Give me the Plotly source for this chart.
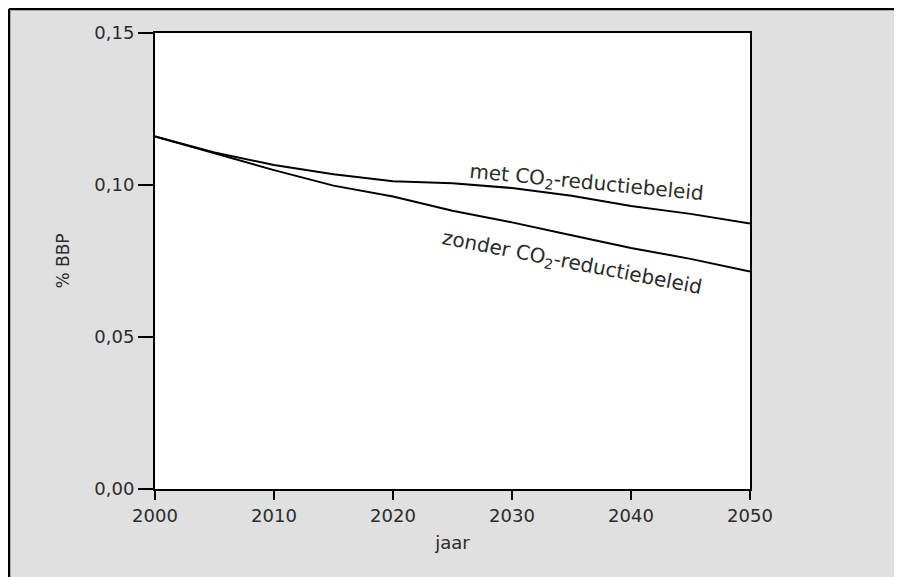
import plotly.graph_objects as go

# jaar en aandeel in % BBP
jaren = [2000, 2005, 2010, 2015, 2020, 2025, 2030, 2035, 2040, 2045, 2050]
met_beleid = [0.116, 0.1107, 0.1066, 0.1035, 0.1012, 0.1006, 0.0990, 0.0965, 0.0931, 0.0905, 0.0873]
zonder_beleid = [0.116, 0.1104, 0.1049, 0.0998, 0.0962, 0.0915, 0.0877, 0.0835, 0.0793, 0.0757, 0.0715]

x_ticks = [2000, 2010, 2020, 2030, 2040, 2050]
y_ticks = [0.0, 0.05, 0.10, 0.15]

tekst = "#2b2b2b"
fnt = "DejaVu Sans, Liberation Sans, sans-serif"

fig = go.Figure()
fig.add_trace(go.Scatter(x=jaren, y=met_beleid, mode="lines",
                         line=dict(color="black", width=2), showlegend=False))
fig.add_trace(go.Scatter(x=jaren, y=zonder_beleid, mode="lines",
                         line=dict(color="black", width=2), showlegend=False))

fig.add_annotation(x=2036.3, y=0.1008, text="met CO<sub>2</sub>-reductiebeleid",
                   showarrow=False, textangle=5.5,
                   font=dict(size=20, color=tekst, family=fnt))
fig.add_annotation(x=2035.0, y=0.0745, text="zonder CO<sub>2</sub>-reductiebeleid",
                   showarrow=False, textangle=11,
                   font=dict(size=20, color=tekst, family=fnt))

# kader links en boven, dunne lijn rechts (geen onderrand)
fig.add_shape(type="line", xref="paper", yref="paper",
              x0=-0.2454, x1=-0.2454, y0=-0.20, y1=1.0526,
              line=dict(color="black", width=2.5))
fig.add_shape(type="line", xref="paper", yref="paper",
              x0=-0.2454, x1=1.2521, y0=1.0526, y1=1.0526,
              line=dict(color="black", width=2.5))
fig.add_shape(type="line", xref="paper", yref="paper",
              x0=1.2521, x1=1.2521, y0=-0.20, y1=1.0526,
              line=dict(color="#555555", width=1.5))

fig.update_xaxes(range=[2000, 2050], tickvals=x_ticks, ticks="outside",
                 ticklen=9, tickwidth=2, tickcolor="black",
                 showline=True, linecolor="black", linewidth=2, mirror=True,
                 showgrid=False, zeroline=False,
                 tickfont=dict(size=18, color=tekst, family=fnt),
                 title=dict(text="jaar", font=dict(size=18, color=tekst, family=fnt),
                            standoff=12))
fig.update_yaxes(range=[0, 0.15], tickvals=y_ticks, tickformat=".2f",
                 ticks="outside", ticklen=15, tickwidth=2, tickcolor="black",
                 showline=True, linecolor="black", linewidth=2, mirror=True,
                 showgrid=False, zeroline=False,
                 tickfont=dict(size=18, color=tekst, family=fnt),
                 title=dict(text="% BBP", font=dict(size=17, color=tekst, family=fnt),
                            standoff=20))

fig.update_layout(width=894, height=569, separators=",.",
                  margin=dict(l=147, r=152, t=25, b=88),
                  paper_bgcolor="#e0e0e0", plot_bgcolor="white")

fig.write_html("out.html")
